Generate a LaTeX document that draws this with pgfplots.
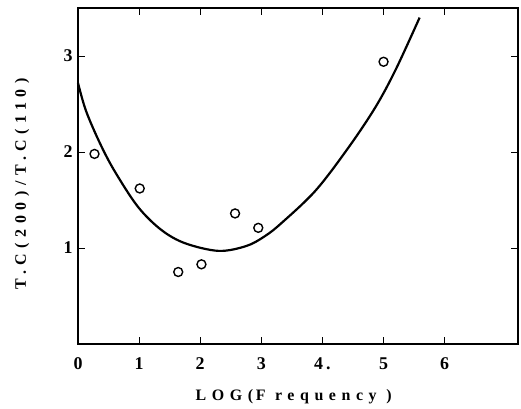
\documentclass[border=0pt]{standalone}
\usepackage{pgfplots}
\pgfplotsset{compat=1.18}
\usepackage{fontspec}
\setmainfont{Liberation Serif}
\newfontfamily\spaced[LetterSpace=35]{Liberation Serif}
\begin{document}
\begin{tikzpicture}
\begin{axis}[
  name=ax,
  scale only axis,
  width=440bp, height=336bp,
  xmin=0, xmax=7.2, ymin=0, ymax=3.5,
  xtick={0,1,2,3,4,5,6},
  xticklabels={0,1,2,3,4\,.,5,6},
  ytick={1,2,3},
  tick align=inside,
  major tick length=7pt,
  tick style={line width=0.9pt,black},
  axis line style={line width=1.1pt},
  /pgf/number format/assume math mode=true,
  ticklabel style={font=\fontsize{18}{20}\selectfont\bfseries},
  xticklabel style={yshift=-10pt},
  yticklabel style={xshift=-2pt},
  xlabel={\spaced LOG(\,F requency\ )},
  ylabel={\spaced T.C(200)/T.C(110)},
  label style={font=\fontsize{16}{18}\selectfont\bfseries},
  xlabel style={at={(axis description cs:0.49,-0.158)},anchor=center},
  ylabel style={at={(axis description cs:-0.127,0.476)},anchor=center},
  clip=false,
]
\addplot[black, line width=2.2pt, smooth, tension=0.55] coordinates {
  (0,2.72) (0.13,2.43) (0.36,2.09) (0.6,1.80) (0.98,1.43)
  (1.36,1.19) (1.75,1.05) (2.3,0.97) (2.75,1.02) (3.05,1.12) (3.33,1.26) (3.89,1.60) (4.43,2.05)
  (4.87,2.47) (5.2,2.86) (5.59,3.40)
};
\addplot[only marks, mark=o, mark size=4.5pt, mark options={line width=1.4pt, black}] coordinates {
  (0.27,1.98) (1.01,1.62) (1.64,0.75) (2.02,0.83) (2.57,1.36) (2.95,1.21) (5.0,2.94)
};
\end{axis}
\useasboundingbox ([shift={(-78bp,-64bp)}]ax.south west) rectangle ([shift={(3bp,8bp)}]ax.north east);
\end{tikzpicture}
\end{document}
